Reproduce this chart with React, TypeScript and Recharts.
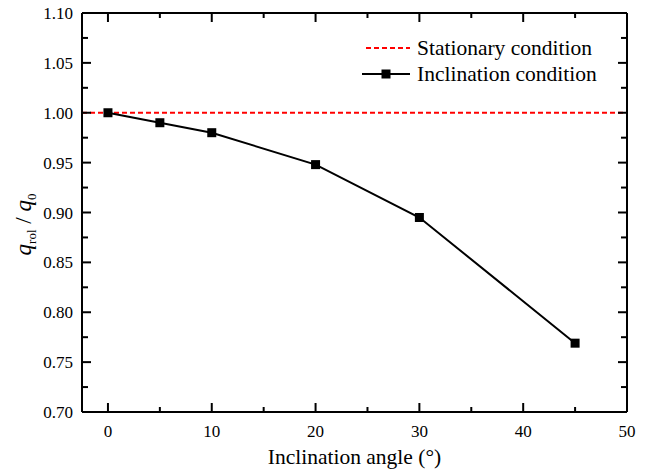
import { LineChart, Line, XAxis, YAxis, ReferenceLine, Legend, Label } from 'recharts';

// inclination angle (deg) vs heat flux ratio q_rol / q_0
const angles = [0, 5, 10, 20, 30, 45];
const qRatio = [1.0, 0.99, 0.98, 0.948, 0.895, 0.769];
const stationary = 1.0;

const xTicks = [0, 5, 10, 15, 20, 25, 30, 35, 40, 45, 50];
const yTicks = [0.7, 0.725, 0.75, 0.775, 0.8, 0.825, 0.85, 0.875, 0.9, 0.925, 0.95, 0.975, 1.0, 1.025, 1.05, 1.075, 1.1];

const data = angles.map((a, i) => ({ angle: a, q: qRatio[i] }));

const FONT = '"Liberation Serif", "Times New Roman", serif';
const isMajorX = (v: number) => v % 10 === 0;
const isMajorY = (v: number) => Math.abs(Math.round(v * 20) - v * 20) < 1e-6;

const BottomTick = (p: any) => {
  const v = p.payload.value;
  const len = isMajorX(v) ? 9 : 5;
  return (
    <g>
      <line x1={p.x} y1={p.y} x2={p.x} y2={p.y - len} stroke="#000" strokeWidth={2} />
      {isMajorX(v) ? (
        <text x={p.x} y={p.y + 25} textAnchor="middle" style={{ fontFamily: FONT }} fontSize={17} fill="#000">
          {v}
        </text>
      ) : null}
    </g>
  );
};

const TopTick = (p: any) => {
  const len = isMajorX(p.payload.value) ? 9 : 5;
  return <line x1={p.x} y1={p.y} x2={p.x} y2={p.y + len} stroke="#000" strokeWidth={2} />;
};

const LeftTick = (p: any) => {
  const v = p.payload.value;
  const len = isMajorY(v) ? 9 : 6;
  return (
    <g>
      <line x1={p.x} y1={p.y} x2={p.x + len} y2={p.y} stroke="#000" strokeWidth={2} />
      {isMajorY(v) ? (
        <text x={p.x - 9} y={p.y + 6} textAnchor="end" style={{ fontFamily: FONT }} fontSize={17} fill="#000">
          {v.toFixed(2)}
        </text>
      ) : null}
    </g>
  );
};

const RightTick = (p: any) => {
  const len = isMajorY(p.payload.value) ? 9 : 6;
  return <line x1={p.x} y1={p.y} x2={p.x - len} y2={p.y} stroke="#000" strokeWidth={2} />;
};

const SquareDot = (p: any) => (
  <rect key={`d-${p.index}`} x={p.cx - 4.5} y={p.cy - 4.5} width={9} height={9} fill="#000" />
);

const XTitle = (p: any) => {
  const vb = p.viewBox;
  return (
    <text
      x={vb.x + vb.width / 2}
      y={vb.y + 52}
      textAnchor="middle"
      style={{ fontFamily: FONT }}
      fontSize={21.5}
      fill="#000"
    >
      Inclination angle (°)
    </text>
  );
};

const YTitle = (p: any) => {
  const vb = p.viewBox;
  const cx = 31;
  const cy = vb.y + vb.height / 2 + 12;
  return (
    <text
      x={cx}
      y={cy}
      transform={`rotate(-90 ${cx} ${cy})`}
      textAnchor="middle"
      style={{ fontFamily: FONT }}
      fontSize={23}
      fill="#000"
    >
      <tspan fontStyle="italic">q</tspan>
      <tspan fontSize={13} dy={5}>rol</tspan>
      <tspan dy={-5}> / </tspan>
      <tspan fontStyle="italic">q</tspan>
      <tspan fontSize={13} dy={5}>0</tspan>
    </text>
  );
};

const LegendBox = () => (
  <div style={{ fontFamily: FONT, fontSize: 21.5, color: '#000', lineHeight: '26px', whiteSpace: 'nowrap' }}>
    <div style={{ display: 'flex', alignItems: 'center', height: 26 }}>
      <svg width={56} height={10} style={{ marginRight: 5 }}>
        <line x1={10} y1={5} x2={54} y2={5} stroke="#ff0000" strokeWidth={2} strokeDasharray="5 3" />
      </svg>
      <span>Stationary condition</span>
    </div>
    <div style={{ display: 'flex', alignItems: 'center', height: 26 }}>
      <svg width={56} height={10} style={{ marginRight: 5 }}>
        <line x1={6} y1={5} x2={54} y2={5} stroke="#000" strokeWidth={2} />
        <rect x={25.5} y={0.5} width={9} height={9} fill="#000" />
      </svg>
      <span>Inclination condition</span>
    </div>
  </div>
);

const axisStyle = { stroke: '#000', strokeWidth: 2 };

export default function App() {
  return (
    <div style={{ position: 'absolute', left: 0, top: 0, background: '#fff' }}>
      <LineChart
        width={645}
        height={472}
        data={data}
        margin={{ top: 0, right: 0, bottom: 0, left: 0 }}
      >
        <XAxis
          dataKey="angle"
          type="number"
          domain={[-2.5, 50]}
          ticks={xTicks}
          interval={0}
          height={60}
          tickSize={0}
          tickMargin={0}
          tickLine={false}
          tick={BottomTick}
          axisLine={axisStyle}
        >
          <Label content={XTitle} />
        </XAxis>
        <XAxis
          xAxisId="top"
          orientation="top"
          dataKey="angle"
          type="number"
          domain={[-2.5, 50]}
          ticks={xTicks}
          interval={0}
          height={13}
          tickSize={0}
          tickMargin={0}
          tickLine={false}
          tick={TopTick}
          axisLine={axisStyle}
        />
        <YAxis
          type="number"
          domain={[0.7, 1.1]}
          ticks={yTicks}
          interval={0}
          width={82}
          tickSize={0}
          tickMargin={0}
          tickLine={false}
          tick={LeftTick}
          axisLine={axisStyle}
        >
          <Label content={YTitle} />
        </YAxis>
        <YAxis
          yAxisId="right"
          orientation="right"
          type="number"
          domain={[0.7, 1.1]}
          ticks={yTicks}
          interval={0}
          width={18}
          tickSize={0}
          tickMargin={0}
          tickLine={false}
          tick={RightTick}
          axisLine={axisStyle}
        />
        <ReferenceLine y={stationary} stroke="#ff0000" strokeWidth={2} strokeDasharray="5 3" />
        <Line
          dataKey="q"
          stroke="#000"
          strokeWidth={2}
          dot={SquareDot}
          isAnimationActive={false}
        />
        <Line
          xAxisId="top"
          yAxisId="right"
          dataKey="q"
          stroke="none"
          dot={false}
          legendType="none"
          isAnimationActive={false}
        />
        <Legend
          content={LegendBox}
          layout="horizontal"
          verticalAlign="middle"
          align="center"
          wrapperStyle={{ position: 'absolute', left: 356, top: 35, width: 'auto' }}
        />
      </LineChart>
    </div>
  );
}
